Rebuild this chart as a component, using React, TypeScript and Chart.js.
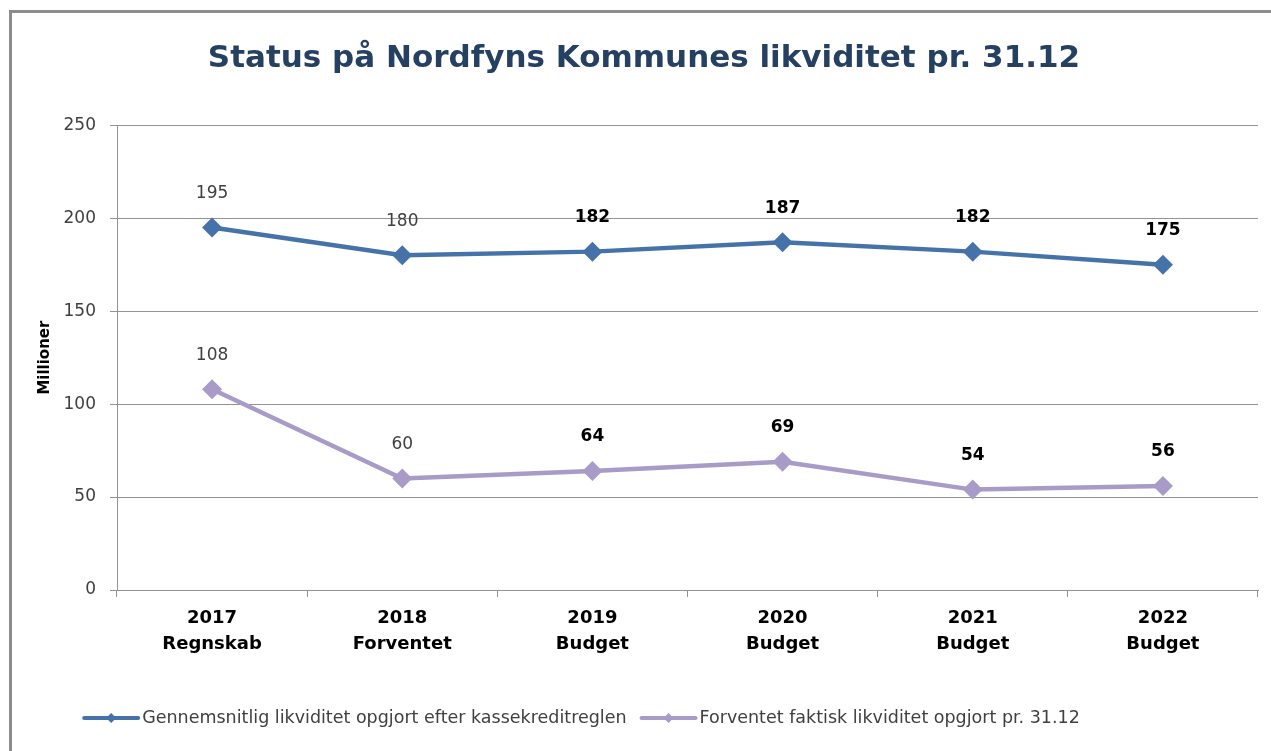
import React, { useEffect, useRef } from "react";
import { Chart, registerables } from "chart.js";

Chart.register(...registerables);

const categories: string[][] = [
  ["2017", "Regnskab"],
  ["2018", "Forventet"],
  ["2019", "Budget"],
  ["2020", "Budget"],
  ["2021", "Budget"],
  ["2022", "Budget"],
];
const seriesNames = [
  "Gennemsnitlig likviditet opgjort efter kassekreditreglen",
  "Forventet faktisk likviditet opgjort pr. 31.12",
];
const gennemsnitlig = [195, 180, 182, 187, 182, 175];
const forventet = [108, 60, 64, 69, 54, 56];
const boldLabel = [false, false, true, true, true, true];
const yMin = 0;
const yMax = 250;
const yStep = 50;
const chartTitle = "Status på Nordfyns Kommunes likviditet pr. 31.12";
const yTitle = "Millioner";

const FONT = "'DejaVu Sans', sans-serif";
const BLUE = "#4672AA";
const PURPLE = "#A99BC8";
const GRID = "#939393";

const dataLabelPlugin = {
  id: "dataLabels",
  afterDatasetsDraw(chart: any) {
    const ctx = chart.ctx;
    chart.data.datasets.forEach((ds: any, i: number) => {
      const meta = chart.getDatasetMeta(i);
      meta.data.forEach((pt: any, j: number) => {
        const bold = boldLabel[j];
        ctx.save();
        ctx.font = `${bold ? "bold " : ""}17px ${FONT}`;
        ctx.fillStyle = bold ? "#000000" : "#404040";
        ctx.textAlign = "center";
        ctx.textBaseline = "middle";
        ctx.fillText(String(ds.data[j]), pt.x, pt.y - 34);
        ctx.restore();
      });
    });
  },
};

const legendPlugin = {
  id: "customLegend",
  afterDraw(chart: any) {
    const ctx = chart.ctx;
    const y = 718;
    const lineLen = 54;
    const gapText = 4;
    const itemGap = 15;
    ctx.save();
    ctx.font = `17.5px ${FONT}`;
    const items = chart.data.datasets.map((ds: any) => ({
      label: ds.label,
      color: ds.borderColor,
      w: lineLen + gapText + ctx.measureText(ds.label).width,
    }));
    const total = items.reduce((s: number, it: any) => s + it.w, 0) + itemGap * (items.length - 1);
    let x = 582 - total / 2;
    items.forEach((it: any) => {
      ctx.strokeStyle = it.color;
      ctx.lineWidth = 4;
      ctx.lineCap = "round";
      ctx.beginPath();
      ctx.moveTo(x, y);
      ctx.lineTo(x + lineLen, y);
      ctx.stroke();
      const cx = x + lineLen / 2;
      ctx.fillStyle = it.color;
      ctx.beginPath();
      ctx.moveTo(cx, y - 5);
      ctx.lineTo(cx + 5, y);
      ctx.lineTo(cx, y + 5);
      ctx.lineTo(cx - 5, y);
      ctx.closePath();
      ctx.fill();
      ctx.fillStyle = "#404040";
      ctx.textAlign = "left";
      ctx.textBaseline = "middle";
      ctx.fillText(it.label, x + lineLen + gapText, y);
      x += it.w + itemGap;
    });
    ctx.restore();
  },
};

export default function App() {
  const ref = useRef<HTMLCanvasElement | null>(null);

  useEffect(() => {
    if (!ref.current) return;
    const chart = new Chart(ref.current, {
      type: "line",
      data: {
        labels: categories,
        datasets: [
          {
            label: seriesNames[0],
            data: gennemsnitlig,
            borderColor: BLUE,
            backgroundColor: BLUE,
            borderWidth: 4.5,
            pointStyle: "rectRot",
            pointRadius: 10,
            pointBackgroundColor: BLUE,
            pointBorderWidth: 0,
            tension: 0,
          },
          {
            label: seriesNames[1],
            data: forventet,
            borderColor: PURPLE,
            backgroundColor: PURPLE,
            borderWidth: 4.5,
            pointStyle: "rectRot",
            pointRadius: 10,
            pointBackgroundColor: PURPLE,
            pointBorderWidth: 0,
            tension: 0,
          },
        ],
      },
      options: {
        responsive: false,
        animation: false,
        layout: { padding: { left: 30, right: 13, top: 0, bottom: 81 } },
        plugins: {
          legend: { display: false },
          tooltip: { enabled: false },
          title: {
            display: true,
            text: chartTitle,
            color: "#254061",
            font: { family: FONT, size: 31, weight: "bold", lineHeight: 1.2 },
            padding: { top: 40, bottom: 48 },
          },
        },
        scales: {
          x: {
            type: "category",
            offset: true,
            grid: {
              display: true,
              offset: true,
              drawOnChartArea: false,
              drawTicks: true,
              tickLength: 7,
              color: GRID,
            },
            border: { display: true, color: GRID, width: 1 },
            ticks: {
              color: "#000000",
              font: { family: FONT, size: 18, weight: "bold", lineHeight: 1.45 },
              padding: 8,
              maxRotation: 0,
              autoSkip: false,
            },
            afterFit: (scale: any) => {
              scale.height = 80;
            },
          },
          y: {
            min: yMin,
            max: yMax,
            ticks: {
              stepSize: yStep,
              color: "#404040",
              font: { family: FONT, size: 17 },
              padding: 14,
            },
            grid: {
              color: GRID,
              lineWidth: 1,
              drawTicks: true,
              tickLength: 7,
            },
            border: { display: true, color: GRID, width: 1 },
            title: {
              display: true,
              text: yTitle,
              color: "#000000",
              font: { family: FONT, size: 15, weight: "bold", lineHeight: 1.2 },
              padding: { top: 6, bottom: 0 },
            },
            afterFit: (scale: any) => {
              scale.width = 87;
            },
          },
        },
      },
      plugins: [dataLabelPlugin, legendPlugin],
    } as any);
    return () => chart.destroy();
  }, []);

  return (
    <div
      style={{
        position: "absolute",
        left: 0,
        top: 0,
        width: 1271,
        height: 751,
        overflow: "hidden",
        background: "#ffffff",
      }}
    >
      <div
        style={{
          position: "absolute",
          left: 9,
          top: 10,
          width: 1320,
          height: 800,
          border: "3px solid #8c8c8c",
        }}
      />
      <canvas
        ref={ref}
        width={1271}
        height={751}
        style={{ position: "absolute", left: 0, top: 0, display: "block" }}
      />
    </div>
  );
}
